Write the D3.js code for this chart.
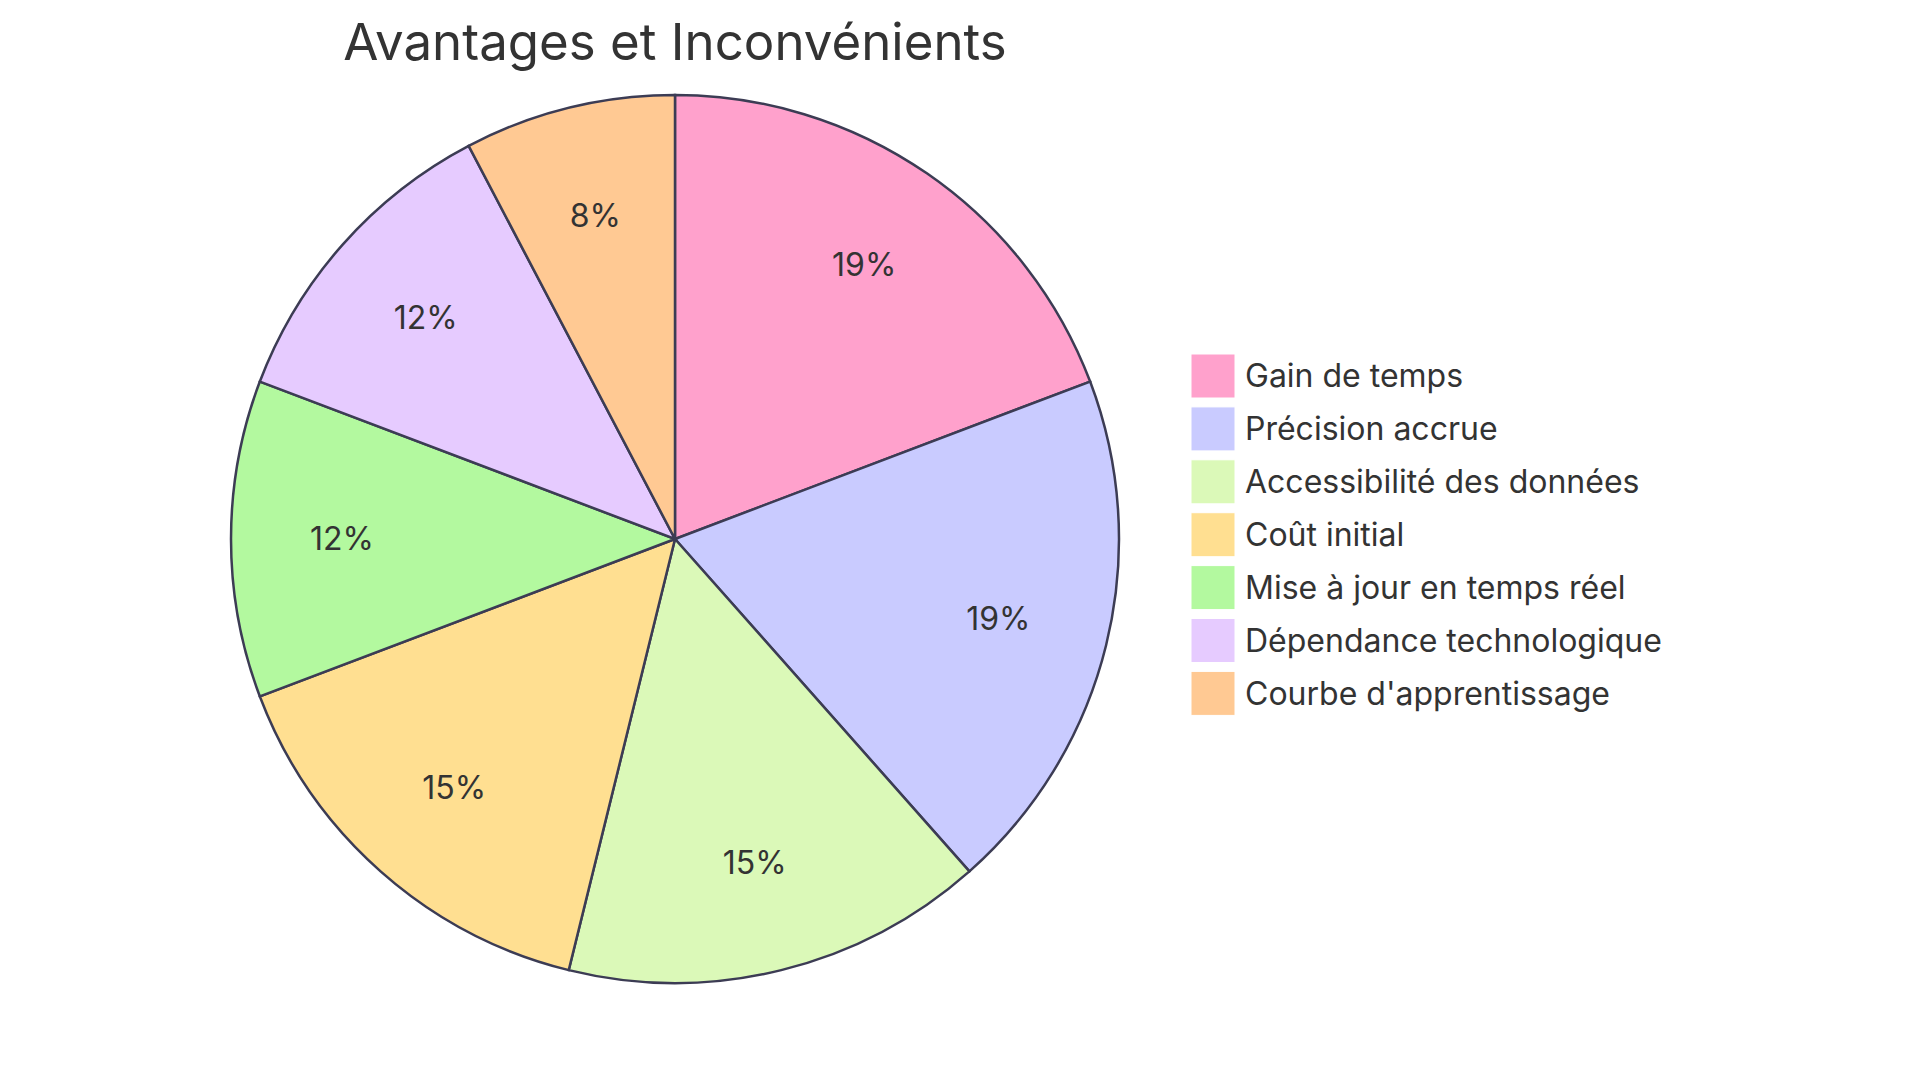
<!DOCTYPE html><html><head><meta charset="utf-8"><script src="https://cdn.jsdelivr.net/npm/d3@7"></script>
<style>body{margin:0;background:#fff}text{font-family:Inter,"Open Sans",sans-serif;fill:#333}</style></head><body>
<svg id="c" width="1920" height="1083"></svg>
<script>
const categories=["Gain de temps","Précision accrue","Accessibilité des données","Coût initial","Mise à jour en temps réel","Dépendance technologique","Courbe d'apprentissage"];
const values=[25,25,20,20,15,15,10];
const colors=["#FFA1CC","#C9CBFF","#DBF9B8","#FFDF91","#B3F99F","#E6CBFF","#FFC993"];
const svg=d3.select("#c");
const cx=675,cy=539,R=444;
svg.append("text").attr("x",cx).attr("y",60).attr("text-anchor","middle").style("font-size","51px").text("Avantages et Inconvénients");
const pie=d3.pie().sort(null)(values);
const arc=d3.arc().innerRadius(0).outerRadius(R);
const lab=d3.arc().innerRadius(R*0.75).outerRadius(R*0.75);
const total=d3.sum(values);
const g=svg.append("g").attr("transform",`translate(${cx},${cy})`);
g.selectAll("path").data(pie).join("path").attr("d",arc).attr("fill",(d,i)=>colors[i]).attr("stroke","#3c3c54").attr("stroke-width",2.5);
g.selectAll("text").data(pie).join("text").attr("transform",d=>`translate(${lab.centroid(d)})`).attr("text-anchor","middle").attr("dy","0.35em").style("font-size","32px").text(d=>Math.round(d.value/total*100)+"%");
const lg=svg.append("g");
categories.forEach((c,i)=>{const y=354+i*52.9;
lg.append("rect").attr("x",1191).attr("y",y).attr("width",44).attr("height",44).attr("fill",colors[i]).attr("stroke","#fff");
lg.append("text").attr("x",1245).attr("y",y+22).attr("dy","0.35em").style("font-size","32px").text(c);});
</script></body></html>
